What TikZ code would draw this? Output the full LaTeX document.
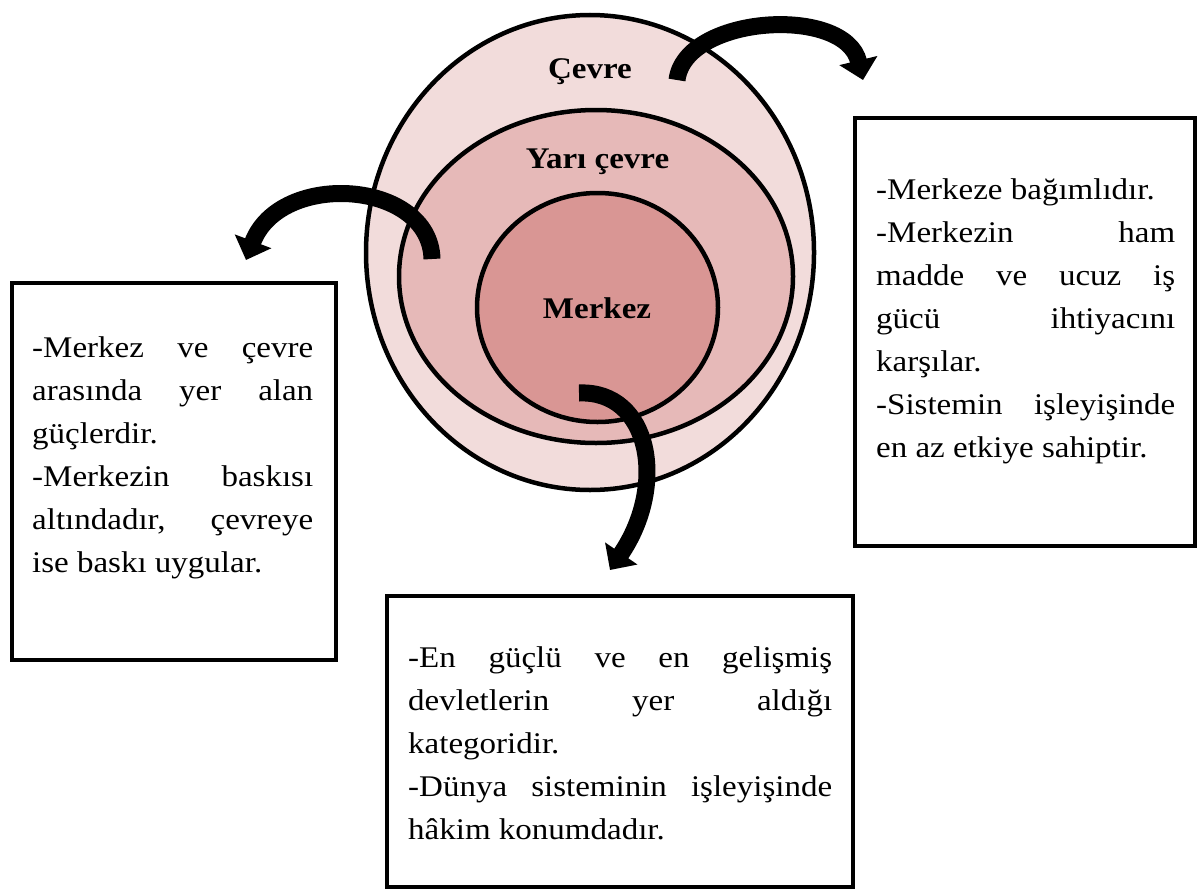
\documentclass[tikz,border=0pt]{standalone}
\usepackage{fontspec}
\setmainfont{Liberation Serif}[FakeStretch=1.1]
\usetikzlibrary{shapes.geometric,arrows.meta}

\definecolor{ringout}{HTML}{F2DCDB}
\definecolor{ringmid}{HTML}{E6B9B8}
\definecolor{ringin}{HTML}{D99694}

\hyphenpenalty=10000\relax
\exhyphenpenalty=10000\relax
\tolerance=10000\relax

\tikzset{
    ring/.style={ellipse, draw=black, line width=4.5pt, inner sep=0pt},
    ringlabel/.style={anchor=base, inner sep=0pt, font=\fontsize{30}{36}\selectfont\bfseries},
    infobox/.style={draw=black, line width=4pt, inner sep=0pt},
    infotext/.style={anchor=base west, inner sep=0pt, align=justify,
        font=\fontsize{30}{43}\selectfont},
    bentarrow/.style={line width=17pt, -{Triangle[width=38pt,length=20pt]}},
}

\begin{document}
\begin{tikzpicture}[x=1pt, y=-1pt]
            \useasboundingbox (0,0) rectangle (1198,891);
            %% Rings
            \node[ring, fill=ringout, minimum width=448pt, minimum height=475pt]
                (cevre) at (590, 252.5) {};
            \node[ring, fill=ringmid, minimum width=394pt, minimum height=333pt]
                (yari) at (596, 276.5) {};
            \node[ring, fill=ringin, minimum width=241pt, minimum height=229pt]
                (merkez) at (597.5, 307.5) {};
            %% Ring labels
            \node[ringlabel] at (590, 78) (cevretxt) {Çevre};
            \node[ringlabel] at (597.5, 168) (yaritxt) {Yarı çevre};
            \node[ringlabel] at (597, 318) (merkeztxt) {Merkez};
            %% Boxes
            \node[infobox, minimum width=324pt, minimum height=377pt]
                (yaribox) at (174, 471.5) {};
            \node[infobox, minimum width=340pt, minimum height=428pt]
                (cevrebox) at (1025, 332) {};
            \node[infobox, minimum width=466pt, minimum height=291pt]
                (merkezbox) at (620, 741.5) {};
            %% Box texts
            \node[infotext, text width=281pt] at (32, 357) (yaribody)
                {-Merkez ve çevre\linebreak arasında yer alan\linebreak güçlerdir.\par
                 -Merkezin baskısı\linebreak altındadır, çevreye\linebreak ise baskı uygular.};
            \node[infotext, text width=299pt] at (876, 199) (cevrebody)
                {-Merkeze bağımlıdır.\par
                 -Merkezin ham\linebreak madde ve ucuz iş\linebreak gücü ihtiyacını\linebreak karşılar.\par
                 -Sistemin işleyişinde\linebreak en az etkiye sahiptir.};
            \node[infotext, text width=424pt] at (408, 667) (merkezbody)
                {-En güçlü ve en gelişmiş\linebreak devletlerin yer aldığı\linebreak kategoridir.\par
                 -Dünya sisteminin işleyişinde\linebreak hâkim konumdadır.};
            %% Arrows
            \coordinate (cevrefrom) at (677, 80);
            \coordinate (cevreto) at (863, 80);
            \coordinate (yarifrom) at (432, 259);
            \coordinate (yarito) at (246, 260);
            \coordinate (merkezfrom) at (579, 393);
            \coordinate (merkezto) at (610, 570);
            \draw[bentarrow] (cevrefrom) .. controls (685, 15) and (845, 5) .. (cevreto);
            \draw[bentarrow] (yarifrom) .. controls (430, 180) and (280, 170) .. (yarito);
            \draw[bentarrow] (merkezfrom) .. controls (650, 390) and (668, 485) .. (merkezto);
\end{tikzpicture}
\end{document}
